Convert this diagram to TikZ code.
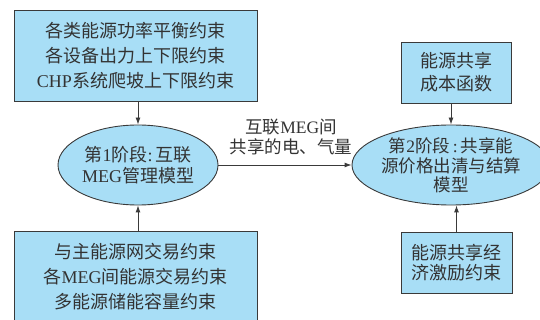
\documentclass[tikz,border=0pt]{standalone}
\usepackage{fontspec}
\setmainfont{Noto Sans CJK SC}
\newfontfamily\lat{Liberation Serif}
\usetikzlibrary{arrows.meta,shapes.geometric}
\definecolor{boxfill}{HTML}{A8DEF6}
\definecolor{txt}{HTML}{333333}
\definecolor{edge}{HTML}{3A3A3A}
\tikzset{
  rbox/.style={draw=edge,line width=0.9pt,fill=boxfill,text=txt,align=center,inner sep=0pt},
  oval/.style={draw=edge,line width=0.9pt,fill=boxfill,text=txt,align=center,ellipse,inner sep=0pt},
  conn/.style={draw=edge,line width=0.9pt,-{Latex[length=7pt,width=5pt]}},
  lbl/.style={text=txt,align=center,inner sep=0pt}
}
\begin{document}
\begin{tikzpicture}[x=1pt,y=-1pt]
\useasboundingbox (0,0) rectangle (540,320);
\node[rbox,minimum width=243pt,minimum height=91pt,font=\fontsize{18}{25}\selectfont] (b1) at (135.5,55.5)
  {各类能源功率平衡约束\\各设备出力上下限约束\\{\lat CHP}系统爬坡上下限约束};
\node[rbox,minimum width=243pt,minimum height=92pt,font=\fontsize{18}{25}\selectfont] (b3) at (135.5,277)
  {与主能源网交易约束\\各{\lat MEG}间能源交易约束\\多能源储能容量约束};
\node[oval,minimum width=160pt,minimum height=80pt,font=\fontsize{18}{21}\selectfont] (e1) at (138,165)
  {第{\lat 1}阶段{\lat :}\,互联\\{\lat MEG}管理模型};
\node[rbox,minimum width=110pt,minimum height=61pt,font=\fontsize{18}{23}\selectfont] (b2) at (456,72.5)
  {能源共享\\成本函数};
\node[rbox,minimum width=111pt,minimum height=61pt,font=\fontsize{18}{20}\selectfont] (b4) at (456.5,262.5)
  {能源共享经\\济激励约束};
\node[oval,minimum width=172pt,minimum height=80pt,font=\fontsize{17.5}{20}\selectfont] (e2) at (451,165)
  {第{\lat 2}阶段\,{\lat :}\,共享能\\源价格出清与结算\\[-1pt]模型};
\node[lbl,font=\fontsize{17.5}{20}\selectfont] (l1) at (291,137) {互联{\lat MEG}间\\共享的电、气量};
\draw[conn] (b1.south -| e1.north) -- (e1.north);
\draw[conn] (b3.north -| e1.south) -- (e1.south);
\draw[conn] (e1.east) -- (e2.west);
\draw[conn] (b2.south -| e2.north) -- (e2.north);
\draw[conn] (b4.north) -- (b4.north |- e2.south);
\end{tikzpicture}
\end{document}
